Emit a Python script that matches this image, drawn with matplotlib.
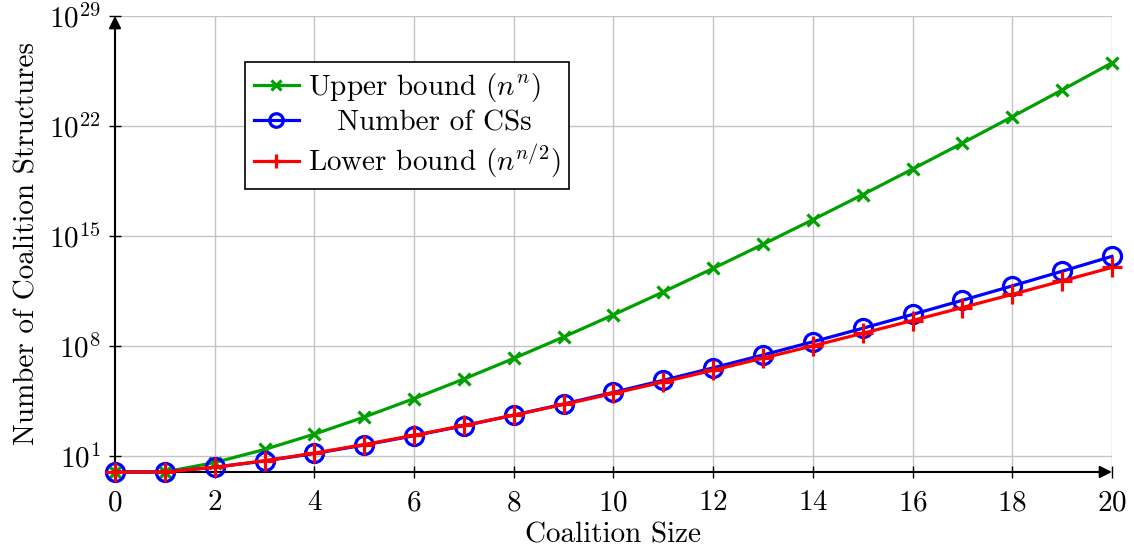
import matplotlib.pyplot as plt
import matplotlib as mpl
import numpy as np

mpl.rcParams['font.family'] = 'cmr10'
mpl.rcParams['mathtext.fontset'] = 'cm'
mpl.rcParams['axes.formatter.use_mathtext'] = True
mpl.rcParams['font.size'] = 21

sizes = list(range(21))
upper_bound = [1, 1, 4, 27, 256, 3125, 46656, 823543, 16777216, 387420489,
               1.0e10, 2.853e11, 8.916e12, 3.029e14, 1.111e16, 4.379e17,
               1.845e19, 8.272e20, 3.935e22, 1.978e24, 1.049e26]
num_cs = [1, 1, 2, 5, 15, 52, 203, 877, 4140, 21147, 115975, 678570,
          4213597, 27644437, 190899322, 1382958545, 10480142147,
          82864869804, 682076806159, 5832742205057, 51724158235372]
lower_bound = [1, 1, 2, 5.196, 16, 55.9, 216, 907.5, 4096, 19683, 1.0e5,
               5.341e5, 2.986e6, 1.740e7, 1.054e8, 6.617e8, 4.295e9,
               2.876e10, 1.984e11, 1.407e12, 1.024e13]

x_ticks = list(range(0, 21, 2))
y_ticks = [1e1, 1e8, 1e15, 1e22, 1e29]

fig = plt.figure(figsize=(11.34, 5.51), dpi=100)
ax = fig.add_axes([0.1014, 0.1434, 0.8792, 0.8276])

green = '#00a000'
ax.plot(sizes, upper_bound, color=green, lw=2.3, marker='x', ms=9, mew=2.3,
        label=r'Upper bound ($n^n$)', clip_on=False, zorder=3)
ax.plot(sizes, num_cs, color='blue', lw=2.3, marker='o', ms=13, mew=2.3,
        mfc='none', label='   Number of CSs', clip_on=False, zorder=4)
ax.plot(sizes, lower_bound, color='red', lw=2.3, marker='+', ms=14, mew=2.3,
        label=r'Lower bound ($n^{n/2}$)', clip_on=False, zorder=5)

ax.set_yscale('log')
ax.set_xlim(0, 20)
ax.set_ylim(1, 1e29)
ax.set_xticks(x_ticks)
ax.set_yticks(y_ticks)
ax.yaxis.set_minor_locator(mpl.ticker.NullLocator())
ax.grid(True, color='#c4c4c4', lw=1)
ax.set_axisbelow(True)

for s in ['top', 'right', 'left', 'bottom']:
    ax.spines[s].set_visible(False)
ax.tick_params(direction='inout', length=8, width=1)
ax.tick_params(axis='x', pad=9)
ax.tick_params(axis='y', pad=6)

# axis lines with arrow heads
ax.annotate('', xy=(1.0, 0), xytext=(0, 0), xycoords='axes fraction',
            arrowprops=dict(arrowstyle='-|>', color='black', lw=1.5,
                            mutation_scale=18, shrinkA=0, shrinkB=0))
ax.annotate('', xy=(0, 1.0), xytext=(0, 0), xycoords='axes fraction',
            arrowprops=dict(arrowstyle='-|>', color='black', lw=1.5,
                            mutation_scale=18, shrinkA=0, shrinkB=0))

ax.set_xlabel('Coalition Size', labelpad=4)
ax.set_ylabel('Number of Coalition Structures', labelpad=6)

leg = ax.legend(loc='upper left', bbox_to_anchor=(0.1304, 0.899), fancybox=False,
                framealpha=1, edgecolor='black', handlelength=1.55,
                borderpad=0.3, labelspacing=0.2, handletextpad=0.3,
                borderaxespad=0)
leg.get_frame().set_linewidth(1.2)
for h in leg.legend_handles:
    h.set_markersize(h.get_markersize() * 0.75)

fig.savefig('out.png', dpi=100)
